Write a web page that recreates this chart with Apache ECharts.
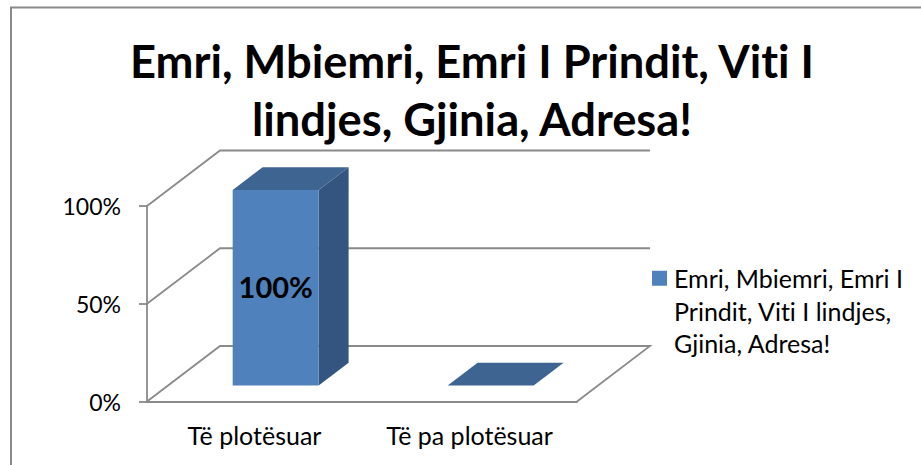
<!DOCTYPE html>
<html>
<head>
<meta charset="utf-8">
<script src="https://cdn.jsdelivr.net/npm/echarts@6/dist/echarts.min.js"></script>
<style>html,body{margin:0;padding:0;background:#fff}#c{width:921px;height:465px}#c text{font-variant-ligatures:none}</style>
</head>
<body>
<div id="c"></div>
<script>
const titleLines = ['Emri, Mbiemri, Emri I Prindit, Viti I', 'lindjes, Gjinia, Adresa!'];
const seriesName = 'Emri, Mbiemri, Emri I Prindit, Viti I lindjes, Gjinia, Adresa!';
const legendLines = ['Emri, Mbiemri, Emri I', 'Prindit, Viti I lindjes,', 'Gjinia, Adresa!'];
const categories = ['Të plotësuar', 'Të pa plotësuar'];
const values = [1, 0];
const yTicks = [0, 0.5, 1];

const FONT = 'Lato';
const LINE = '#8a8a8a';
const DEPTH_X = 73, DEPTH_Y = 55.5;          // plot depth in px
const BAR_FRONT = 0.29, BAR_DEPTH = 0.41;    // bar depth position, fraction of plot depth
const BAR_WIDTH = 0.4;                       // fraction of category band

function renderWall(params, api) {
  const t = api.value(0);
  const cs = params.coordSys;
  const y = api.coord([0, t])[1];
  const x0 = cs.x, x1 = cs.x + cs.width;
  const pts = [[x0, y], [x0 + DEPTH_X, y - DEPTH_Y], [x1 + DEPTH_X, y - DEPTH_Y]];
  if (t === 0) pts.push([x1, y]);
  return { type: 'polyline', shape: { points: pts }, style: { stroke: LINE, lineWidth: 1.8, fill: null }, silent: true };
}

function renderBar(params, api) {
  const idx = api.value(0), v = api.value(1);
  const band = api.size([1, 0])[0];
  const c = api.coord([idx, v]), b = api.coord([idx, 0]);
  const w = band * BAR_WIDTH;
  const ox = DEPTH_X * BAR_FRONT, oy = DEPTH_Y * BAR_FRONT;
  const dx = DEPTH_X * BAR_DEPTH, dy = DEPTH_Y * BAR_DEPTH;
  const l = c[0] - w / 2 + ox, r = l + w, top = c[1] - oy, bot = b[1] - oy;
  const children = [];
  if (v > 0) {
    children.push({ type: 'polygon', shape: { points: [[r, top], [r + dx, top - dy], [r + dx, bot - dy], [r, bot]] }, style: { fill: '#34557f' } });
    children.push({ type: 'rect', shape: { x: l, y: top, width: w, height: bot - top }, style: { fill: '#4f81bd' } });
  }
  children.push({ type: 'polygon', shape: { points: [[l, top], [l + dx, top - dy], [r + dx, top - dy], [r, top]] }, style: { fill: '#3e6491' } });
  if (v > 0) {
    children.push({ type: 'text', x: l + w / 2, y: (top + bot) / 2 - 1,
      style: { text: Math.round(v * 100) + '%', font: 'bold 29px ' + FONT, fill: '#000', align: 'center', verticalAlign: 'middle' } });
  }
  return { type: 'group', children };
}

const chart = echarts.init(document.getElementById('c'), null, { renderer: 'svg' });
chart.setOption({
  animation: false,
  backgroundColor: '#fff',
  title: {
    text: titleLines.join('\n'),
    left: 467, top: 26, textAlign: 'center',
    textStyle: { fontFamily: FONT, fontWeight: 'bold', fontSize: 45.3, lineHeight: 58, color: '#000' }
  },
  legend: {
    data: [seriesName],
    left: 652, top: 197,
    orient: 'vertical', padding: 0,
    icon: 'rect', itemWidth: 15, itemHeight: 15, itemGap: 0,
    formatter: () => '\n\n' + legendLines.join('\n'),
    textStyle: { fontFamily: FONT, fontSize: 25, lineHeight: 32.5, color: '#000', padding: [0, 0, 0, 2] },
    selectedMode: false
  },
  grid: { left: 147, right: 344, top: 206, bottom: 63.5 },
  xAxis: {
    type: 'category', data: categories,
    axisLine: { lineStyle: { color: LINE, width: 1.8 } },
    axisTick: { length: 7, lineStyle: { color: LINE, width: 1.8 } },
    axisLabel: { color: '#000', fontFamily: FONT, fontSize: 25, margin: 21, interval: 0, hideOverlap: false }
  },
  yAxis: {
    type: 'value', min: 0, max: 1, interval: 0.5,
    axisLine: { show: true, lineStyle: { color: LINE, width: 1.8 } },
    axisTick: { show: true, length: 8, lineStyle: { color: LINE, width: 1.8 } },
    splitLine: { show: false },
    axisLabel: { color: '#000', fontFamily: FONT, fontSize: 23, margin: 26, padding: [4, 0, 0, 0], formatter: v => Math.round(v * 100) + '%' }
  },
  graphic: [{
    type: 'polyline', silent: true,
    shape: { points: [[11, 465], [11, 7.5], [921, 7.5]] },
    style: { stroke: LINE, lineWidth: 2, fill: null }
  }],
  series: [
    { type: 'custom', name: 'walls', renderItem: renderWall, data: yTicks.map(t => [t]), encode: { y: 0 }, z: 1, silent: true },
    { type: 'custom', name: seriesName, renderItem: renderBar, itemStyle: { color: '#4f81bd' },
      data: values.map((v, i) => [i, v]), encode: { x: 0, y: 1 }, z: 2 }
  ]
});
</script>
</body>
</html>
